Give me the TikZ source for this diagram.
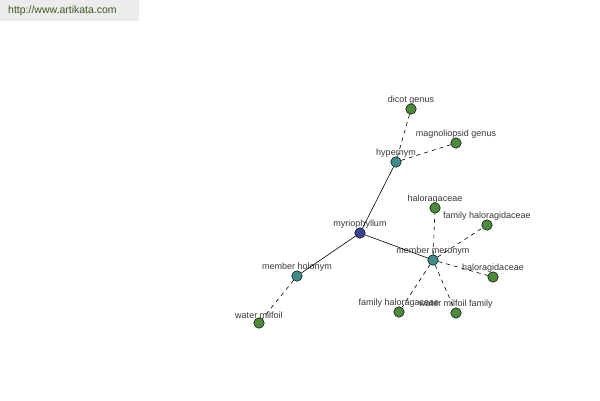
\documentclass[tikz,border=0pt]{standalone}
\usepackage{fontspec}
\setmainfont{Liberation Sans}
\definecolor{wordblue}{RGB}{62,66,150}
\definecolor{reltea}{RGB}{62,140,140}
\definecolor{leafgreen}{RGB}{78,138,62}
\definecolor{labgrey}{RGB}{55,55,55}
\definecolor{wmgrey}{RGB}{236,236,236}
\definecolor{wmtext}{RGB}{60,90,30}
\tikzset{
  dot/.style={circle,draw=black,line width=0.5pt,minimum size=10.5pt,inner sep=0pt,
    label={[text=labgrey,font=\fontsize{9}{10}\selectfont,inner sep=0pt,yshift=-1pt]90:#1}},
  word/.style={dot=#1,fill=wordblue},
  rel/.style={dot=#1,fill=reltea},
  leaf/.style={dot=#1,fill=leafgreen},
  solidlink/.style={line width=0.6pt},
  dashlink/.style={line width=0.6pt,dash pattern=on 4pt off 4pt}
}
\begin{document}
\begin{tikzpicture}[x=1pt,y=1pt,yscale=-1]
\useasboundingbox (0,0) rectangle (600,400);
%watermark
\fill[wmgrey] (0,0) rectangle (139,21);
\node[text=wmtext,font=\fontsize{10.5}{12}\selectfont,anchor=west,inner sep=0pt] (site) at (8,10.5) {http://www.artikata.com};

%centre word
\node[word=myriophyllum] (myr) at (360,233) {};

%relations
\node[rel=hypernym] (hyper) at (396,162) {};
\node[rel=member meronym] (mero) at (433,260) {};
\node[rel=member holonym] (holo) at (297,276) {};

%leaves of hypernym
\node[leaf=dicot genus] (dicot) at (411,109) {};
\node[leaf=magnoliopsid genus] (magno) at (456,143) {};

%leaves of member meronym
\node[leaf=haloragaceae] (halo) at (435,208) {};
\node[leaf=family haloragidaceae] (famhd) at (487,225) {};
\node[leaf=haloragidaceae] (halod) at (493,277) {};
\node[leaf=family haloragaceae] (famha) at (399,312) {};
\node[leaf=water milfoil family] (wmfam) at (456,313) {};

%leaf of member holonym
\node[leaf=water milfoil] (wmil) at (259,323) {};

%links
\draw[solidlink] (myr) -- (hyper);
\draw[solidlink] (myr) -- (mero);
\draw[solidlink] (myr) -- (holo);
\foreach \a/\b in {hyper/dicot,hyper/magno,mero/halo,mero/famhd,mero/halod,mero/famha,mero/wmfam,holo/wmil}
  \draw[dashlink] (\a) -- (\b);
\end{tikzpicture}
\end{document}
